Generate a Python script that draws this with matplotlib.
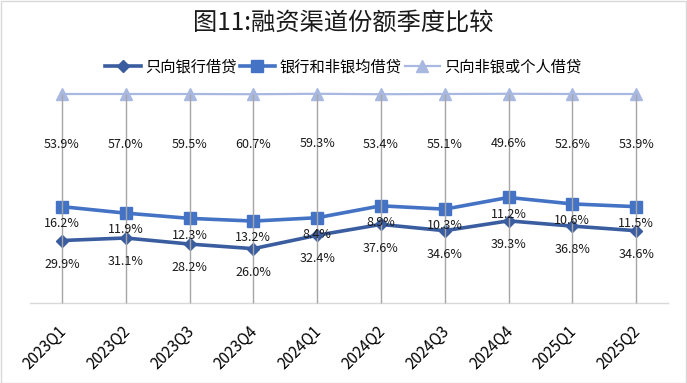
import numpy as np
import matplotlib
matplotlib.use('Agg')
import matplotlib.pyplot as plt
import matplotlib.transforms as mtransforms
from matplotlib.patches import Rectangle

plt.rcParams['font.family'] = ['Noto Sans CJK SC', 'DejaVu Sans']

quarters = ['2023Q1', '2023Q2', '2023Q3', '2023Q4', '2024Q1',
            '2024Q2', '2024Q3', '2024Q4', '2025Q1', '2025Q2']
bank_only = [29.9, 31.1, 28.2, 26.0, 32.4, 37.6, 34.6, 39.3, 36.8, 34.6]
bank_and_nonbank = [16.2, 11.9, 12.3, 13.2, 8.4, 8.9, 10.3, 11.2, 10.6, 11.5]
nonbank_only = [53.9, 57.0, 59.5, 60.7, 59.3, 53.4, 55.1, 49.6, 52.6, 53.9]

names = ['只向银行借贷', '银行和非银均借贷', '只向非银或个人借贷']
title = '图11:融资渠道份额季度比较'

# (colour, marker, marker size, line width, label offset in points)
STYLES = [
    ('#3A5DA0', 'D', 6, 2.6, -17),
    ('#4472C4', 's', 8, 2.6, -12),
    ('#A9B8E0', '^', 8, 1.6, -36),
]

W, H = 687, 383
fig = plt.figure(figsize=(W / 100, H / 100), dpi=100)
ax = fig.add_axes([30 / W, 80 / H, 638 / W, 209 / H])

x = np.arange(len(quarters))
series = [np.array(bank_only), np.array(bank_and_nonbank), np.array(nonbank_only)]
cum = np.cumsum(series, axis=0)

# drop lines from top of stack to the category axis
ax.vlines(x, 0, cum[-1], color='#A6A6A6', lw=1, zorder=4, clip_on=False)

for vals, top, name, (col, mk, ms, lw, dy) in zip(series, cum, names, STYLES):
    ax.plot(x, top, color=col, marker=mk, ms=ms, lw=lw, label=name,
            zorder=3, clip_on=False)
    for xi, yi, v in zip(x, top, vals):
        ax.annotate(f'{v:.1f}%', (xi, yi), xytext=(0, dy),
                    textcoords='offset points', ha='center', va='center',
                    fontsize=9, color='#1a1a1a', zorder=5)

ax.set_xlim(-0.5, len(quarters) - 0.5)
ax.set_ylim(0, 100)
ax.set_yticks([])
ax.set_xticks(x)
ax.set_xticklabels(quarters, rotation=45, ha='right', va='top',
                   rotation_mode='anchor', fontsize=11)
ax.tick_params(axis='x', length=0, pad=14)
shift = mtransforms.ScaledTranslation(-4 / 100, 0, fig.dpi_scale_trans)
for lbl in ax.get_xticklabels():
    lbl.set_transform(lbl.get_transform() + shift)
for s in ['top', 'right', 'left']:
    ax.spines[s].set_visible(False)
ax.spines['bottom'].set_color('#D9D9D9')
ax.spines['bottom'].set_linewidth(1)

fig.text(0.5, 1 - 23 / H, title, ha='center', va='center', fontsize=17.5,
         color='#1a1a1a', fontweight='light')
fig.legend(loc='center', bbox_to_anchor=(0.5, 1 - 67 / H), ncol=3,
           frameon=False, fontsize=11, handlelength=2.3, columnspacing=0.2,
           handletextpad=0.3)

fig.patches.append(Rectangle((0.5 / W, 0.5 / H), 1 - 1.5 / W, 1 - 1.5 / H,
                             transform=fig.transFigure, fill=False,
                             edgecolor='#D9D9D9', lw=1))

fig.savefig('out.png', dpi=100)
